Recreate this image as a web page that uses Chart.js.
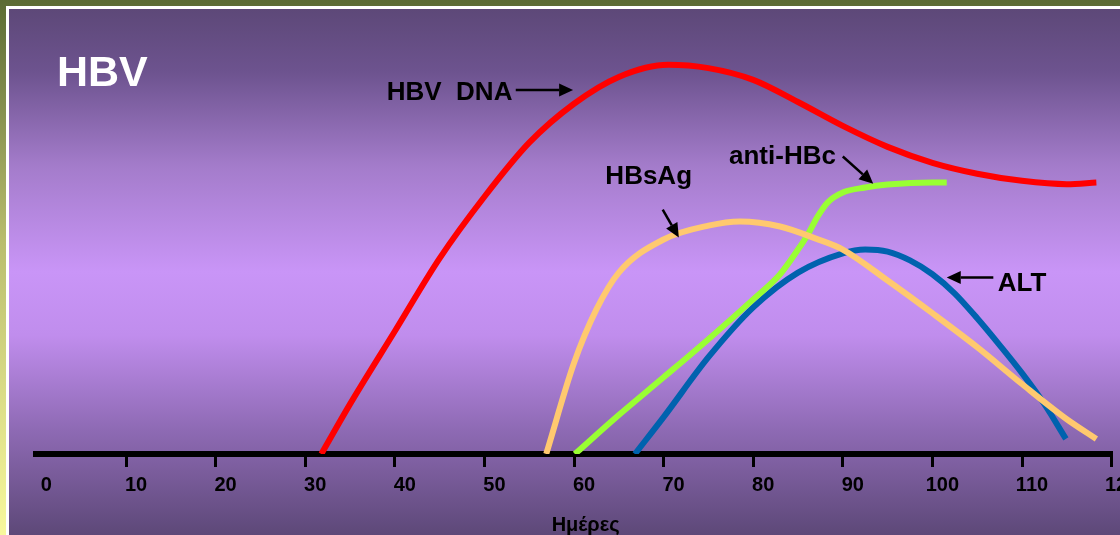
<!DOCTYPE html>
<html>
<head>
<meta charset="utf-8">
<script src="https://cdn.jsdelivr.net/npm/chart.js@4.4.0/dist/chart.umd.min.js"></script>
<style>
  html, body { margin: 0; padding: 0; background: #5d6e37; }
  #wrap { width: 1120px; height: 535px; position: relative; }
</style>
</head>
<body>
<div id="wrap"><canvas id="c" width="1120" height="535"></canvas></div>
<script>
// ---- Data (days on x, relative level on y) ----
const xTicks = [0, 10, 20, 30, 40, 50, 60, 70, 80, 90, 100, 110, 120];
const axisTitle = 'Ημέρες';

const dnaDays   = [31.8, 35, 40, 45, 50, 55, 60, 65, 70.5, 75, 80, 85, 90, 95, 100, 105, 110, 115, 118.3];
const dnaLevel  = [0, 11.9, 29.3, 46.7, 61.4, 74.3, 83.6, 90.0, 92.9, 92.1, 89.3, 84.0, 78.3, 73.3, 69.5, 66.9, 65.2, 64.4, 64.8];

const hbsagDays  = [56.9, 60, 62.5, 65, 70, 75, 78.5, 83, 87, 90, 95, 100, 105, 110, 115, 118.3];
const hbsagLevel = [0, 21.7, 34.5, 43.3, 51.2, 54.5, 55.5, 54.3, 51.4, 48.8, 41.4, 33.6, 25.5, 16.7, 8.3, 3.6];

const antiDays  = [60.1, 65, 70, 75, 80, 83, 85, 86.1, 87.2, 88.3, 90, 92.5, 95, 100, 101.6];
const antiLevel = [0, 9.3, 18.3, 27.4, 36.9, 42.9, 48.8, 52.4, 56.7, 60.0, 62.4, 63.6, 64.3, 64.8, 64.8];

const altDays   = [66.8, 70, 75, 80, 85, 90, 92.5, 95, 97.5, 100, 102.5, 105, 107.5, 110, 112.5, 114.9];
const altLevel  = [0, 8.8, 23.1, 35.0, 43.3, 47.9, 48.8, 48.3, 46.2, 42.9, 38.3, 32.4, 26.0, 19.3, 11.9, 3.6];

const seriesNames = ['HBV  DNA', 'HBsAg', 'anti-HBc', 'ALT'];
const titleText = 'HBV';

// ---- annotation placement (data coordinates) ----
const labelSpecs = [
  { text: titleText,      x: 2.3,   y: 87.9, size: 43, color: '#ffffff', align: 'left' },
  { text: seriesNames[0], x: 39.1,  y: 84.5, size: 26, color: '#000000', align: 'left' },
  { text: seriesNames[1], x: 63.5,  y: 64.5, size: 26, color: '#000000', align: 'left' },
  { text: seriesNames[2], x: 77.3,  y: 69.3, size: 26, color: '#000000', align: 'left' },
  { text: seriesNames[3], x: 107.3, y: 39.0, size: 26, color: '#000000', align: 'left' },
  { text: axisTitle,      x: 61.3,  y: -18.3, size: 20, color: '#000000', align: 'center' }
];
const arrowSpecs = [
  { x0: 53.5, y0: 86.9, x1: 59.9, y1: 86.9 },
  { x0: 69.9, y0: 58.3, x1: 71.7, y1: 51.7 },
  { x0: 90.0, y0: 71.0, x1: 93.4, y1: 64.5 },
  { x0: 106.8, y0: 42.1, x1: 101.6, y1: 42.1 }
];

function pts(xs, ys) { return xs.map((x, i) => ({ x: x, y: ys[i] })); }

const bgPlugin = {
  id: 'bg',
  beforeDraw(chart) {
    const ctx = chart.ctx, W = chart.width, H = chart.height;
    ctx.save();
    const og = ctx.createLinearGradient(0, 0, 0, H);
    og.addColorStop(0, '#5b6b34');
    og.addColorStop(0.45, '#b9bd6e');
    og.addColorStop(1, '#f8f89c');
    ctx.fillStyle = og;
    ctx.fillRect(0, 0, W, H);
    ctx.fillStyle = '#ffffff';
    ctx.fillRect(6, 6, W - 6, H - 6);
    const pg = ctx.createLinearGradient(0, 9, 0, H);
    pg.addColorStop(0, '#5d4878');
    pg.addColorStop(0.12, '#6d538f');
    pg.addColorStop(0.3, '#a47ccb');
    pg.addColorStop(0.5, '#c995f7');
    pg.addColorStop(0.62, '#c08ded');
    pg.addColorStop(0.8, '#8e6ab4');
    pg.addColorStop(1, '#5d4878');
    ctx.fillStyle = pg;
    ctx.fillRect(9, 9, W - 9, H - 9);
    ctx.restore();
  }
};

const annoPlugin = {
  id: 'anno',
  afterDraw(chart) {
    const ctx = chart.ctx, xs = chart.scales.x, ys = chart.scales.y;
    ctx.save();
    labelSpecs.forEach(l => {
      ctx.font = 'bold ' + l.size + 'px "Liberation Sans", Arial, sans-serif';
      ctx.fillStyle = l.color;
      ctx.textAlign = l.align;
      ctx.textBaseline = 'alphabetic';
      ctx.fillText(l.text, xs.getPixelForValue(l.x), ys.getPixelForValue(l.y));
    });
    ctx.strokeStyle = '#000';
    ctx.fillStyle = '#000';
    ctx.lineWidth = 2.5;
    arrowSpecs.forEach(a => {
      const px0 = xs.getPixelForValue(a.x0), py0 = ys.getPixelForValue(a.y0);
      const px1 = xs.getPixelForValue(a.x1), py1 = ys.getPixelForValue(a.y1);
      const ang = Math.atan2(py1 - py0, px1 - px0);
      const hl = 14, hw = 6.5;
      const bx = px1 - hl * Math.cos(ang), by = py1 - hl * Math.sin(ang);
      ctx.beginPath();
      ctx.moveTo(px0, py0);
      ctx.lineTo(bx, by);
      ctx.stroke();
      ctx.beginPath();
      ctx.moveTo(px1, py1);
      ctx.lineTo(bx + hw * Math.sin(ang), by - hw * Math.cos(ang));
      ctx.lineTo(bx - hw * Math.sin(ang), by + hw * Math.cos(ang));
      ctx.closePath();
      ctx.fill();
    });
    ctx.restore();
  }
};

const lineOpts = { fill: false, pointRadius: 0, borderWidth: 6, borderCapStyle: 'butt', cubicInterpolationMode: 'monotone' };

new Chart(document.getElementById('c'), {
  type: 'line',
  data: {
    datasets: [
      Object.assign({ label: seriesNames[0], data: pts(dnaDays, dnaLevel), borderColor: '#ff0000' }, lineOpts),
      Object.assign({ label: seriesNames[1], data: pts(hbsagDays, hbsagLevel), borderColor: '#ffc96f' }, lineOpts),
      Object.assign({ label: seriesNames[2], data: pts(antiDays, antiLevel), borderColor: '#99ff33' }, lineOpts),
      Object.assign({ label: seriesNames[3], data: pts(altDays, altLevel), borderColor: '#0062ae' }, lineOpts)
    ]
  },
  options: {
    responsive: false,
    animation: false,
    events: [],
    layout: { padding: { left: 36.4, right: 8.4, top: 35, bottom: 32 } },
    plugins: { legend: { display: false }, tooltip: { enabled: false } },
    scales: {
      y: { display: false, min: 0, max: 100 },
      x: {
        type: 'linear', min: 0, max: 120,
        afterBuildTicks(scale) { scale.ticks = xTicks.map(v => ({ value: v })); },
        afterFit(scale) { scale.paddingLeft = 0; scale.paddingRight = 0; },
        ticks: {
          color: '#000',
          padding: 6,
          labelOffset: 10,
          maxRotation: 0,
          autoSkip: false,
          font: { family: '"Liberation Sans", Arial, sans-serif', weight: 'bold', size: 20 },
          callback: v => String(v)
        },
        grid: {
          drawOnChartArea: false,
          drawTicks: true,
          tickLength: 13,
          lineWidth: 3,
          color: c => (c.tick && c.tick.value === 0) ? 'rgba(0,0,0,0)' : '#000'
        },
        border: { display: true, color: '#000', width: 6 },
        title: { display: false, text: axisTitle }
      }
    }
  },
  plugins: [bgPlugin, annoPlugin]
});
</script>
</body>
</html>
